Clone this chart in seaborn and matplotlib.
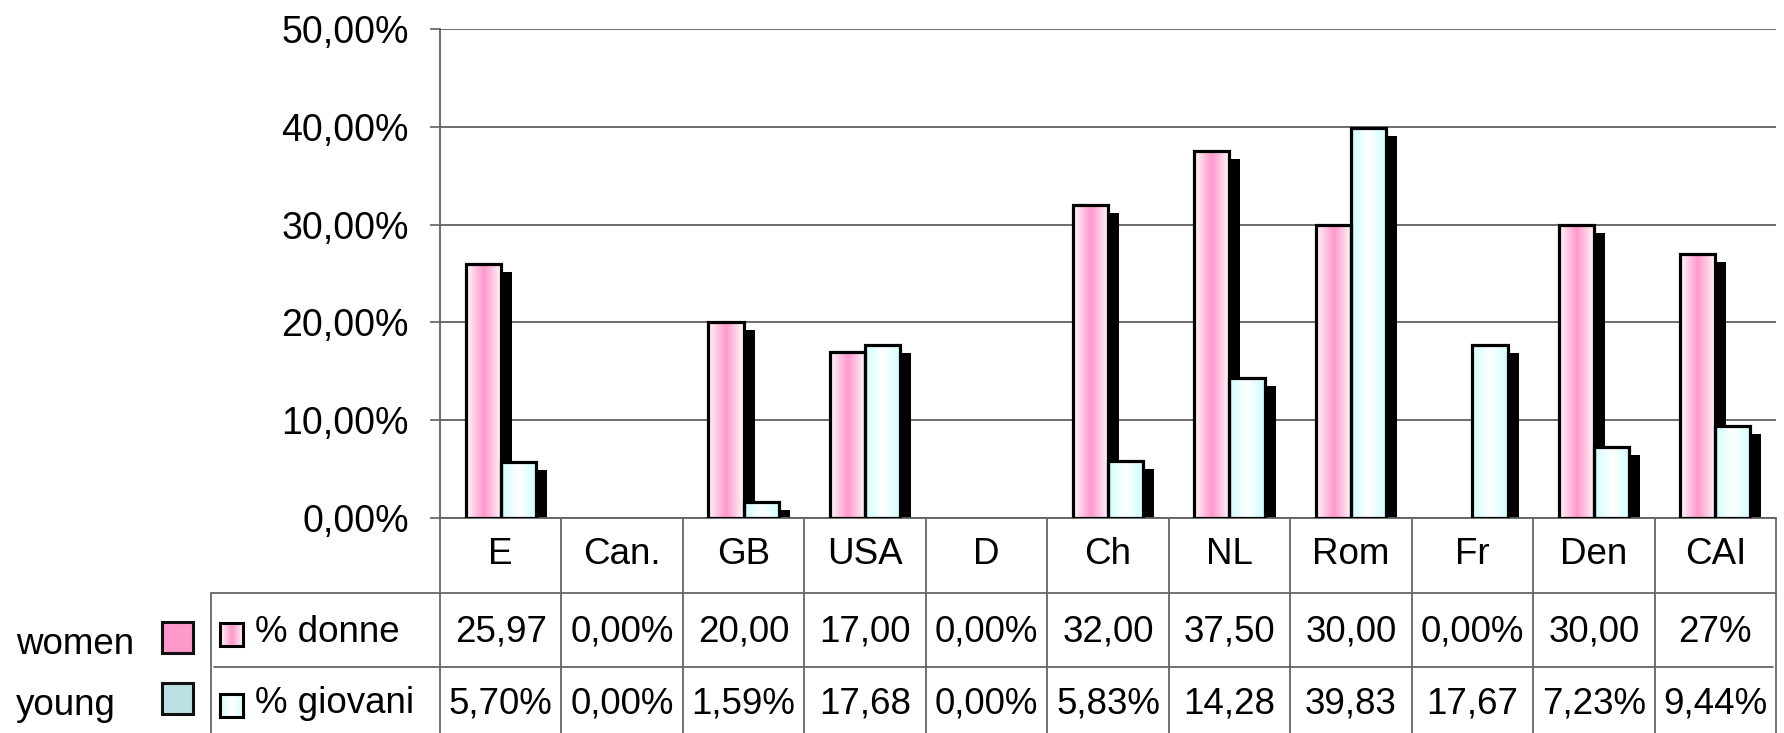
import matplotlib
matplotlib.use("Agg")
import matplotlib.pyplot as plt
import matplotlib.transforms as mtransforms
from matplotlib.patches import Rectangle
from matplotlib.lines import Line2D
import numpy as np
import pandas as pd
import seaborn as sns

# data
countries = ["E", "Can.", "GB", "USA", "D", "Ch", "NL", "Rom", "Fr", "Den", "CAI"]
donne = [25.97, 0.0, 20.0, 17.0, 0.0, 32.0, 37.5, 30.0, 0.0, 30.0, 27.0]
giovani = [5.70, 0.0, 1.59, 17.68, 0.0, 5.83, 14.28, 39.83, 17.67, 7.23, 9.44]
donne_txt = ["25,97", "0,00%", "20,00", "17,00", "0,00%", "32,00",
             "37,50", "30,00", "0,00%", "30,00", "27%"]
giovani_txt = ["5,70%", "0,00%", "1,59%", "17,68", "0,00%", "5,83%",
               "14,28", "39,83", "17,67", "7,23%", "9,44%"]
series = ["% donne", "% giovani"]
legend_names = ["women", "young"]
yticks = [0, 10, 20, 30, 40, 50]

PINK = (1.0, 0.6, 0.8)
CYAN = (0.8, 1.0, 1.0)
WHITE = (1.0, 1.0, 1.0)
GRID = "#606060"
FS = 26.5

sns.set_style("white")
plt.rcParams["font.family"] = ["Liberation Sans", "DejaVu Sans"]
plt.rcParams["text.color"] = "black"
plt.rcParams["ytick.labelcolor"] = "black"

W, H = 1784, 733
fig = plt.figure(figsize=(W / 100, H / 100), dpi=100)
ax = fig.add_axes([440 / W, (H - 518) / H, (1776 - 440) / W, (518 - 29) / H])


def gradient(edge, mid, n=80):
    t = np.linspace(0, 1, n)
    k = (1 - np.abs(2 * t - 1)) ** 0.9
    row = np.array(edge)[None, :] + (np.array(mid) - np.array(edge))[None, :] * k[:, None]
    return row[None, :, :]


df = pd.DataFrame({
    "country": countries * 2,
    "serie": [series[0]] * len(countries) + [series[1]] * len(countries),
    "value": donne + giovani,
})
sns.barplot(data=df, x="country", y="value", hue="serie", order=countries,
            hue_order=series, palette=[PINK, CYAN], width=0.58, saturation=1,
            errorbar=None, legend=False, ax=ax)

shift = ax.transData + mtransforms.ScaledTranslation(0.11, -0.08, fig.dpi_scale_trans)
grads = [gradient(WHITE, PINK), gradient(CYAN, WHITE)]
for container, grad in zip(ax.containers, grads):
    for bar in container:
        h = bar.get_height()
        if h <= 0:
            bar.set_visible(False)
            continue
        x, w = bar.get_x(), bar.get_width()
        ax.add_patch(Rectangle((x, 0), w, h, facecolor="black", edgecolor="none",
                               zorder=1.5, transform=shift))
        ax.imshow(grad, extent=(x, x + w, 0, h), aspect="auto", zorder=2,
                  interpolation="bilinear")
        bar.set_facecolor("none")
        bar.set_edgecolor("black")
        bar.set_linewidth(2.3)
        bar.set_zorder(3)

ax.set_xlim(-0.5, len(countries) - 0.5)
ax.set_ylim(0, 50)
ax.set_yticks(yticks)
ax.set_yticklabels([f"{v:.2f}".replace(".", ",") + "%" for v in yticks], fontsize=27)
ax.set_xticks([])
ax.set_xlabel("")
ax.set_ylabel("")
ax.yaxis.grid(True, color=GRID, lw=1.3)
ax.set_axisbelow(True)
ax.tick_params(axis="y", left=True, length=7.5, width=1.2, color=GRID, pad=15)
for s in ["top", "right"]:
    ax.spines[s].set_visible(False)
for s in ["left", "bottom"]:
    ax.spines[s].set_color(GRID)
    ax.spines[s].set_linewidth(1.3)

# data table under the plot, x in category units, y in pixel rows
unit = (1776 - 440) / len(countries)


def px(p):
    return -0.5 + (p - 440) / unit


tab = fig.add_axes([0, 0, 1, (H - 518) / H])
tab.set_xlim(px(0), px(W))
tab.set_ylim(H, 518)
tab.axis("off")

line_kw = dict(color="#666666", lw=1.3)
for i in range(len(countries) + 1):
    tab.add_line(Line2D([i - 0.5, i - 0.5], [518, H], **line_kw))
tab.add_line(Line2D([px(211), px(1776)], [593, 593], **line_kw))
tab.add_line(Line2D([px(214), px(1773)], [667, 667], **line_kw))
tab.add_line(Line2D([px(211), px(211)], [593, H], **line_kw))

for i, c in enumerate(countries):
    tab.text(i, 564, c, ha="center", va="baseline", fontsize=FS)
    tab.text(i, 642, donne_txt[i], ha="center", va="baseline", fontsize=FS)
    tab.text(i, 713, giovani_txt[i], ha="center", va="baseline", fontsize=FS)

rows = [(642, 623, 646, grads[0]), (713, 694, 717, grads[1])]
for name, (base, y0, y1, grad) in zip(series, rows):
    tab.imshow(grad, extent=(px(220), px(243), y1, y0), aspect="auto", zorder=2)
    tab.add_patch(Rectangle((px(220), y0), px(243) - px(220), y1 - y0,
                            facecolor="none", edgecolor="black", lw=2.2, zorder=3))
    tab.text(px(255), base, name, ha="left", va="baseline", fontsize=FS)

# outer legend with plain swatches
swatches = [(654, 622, 653, "#ff99cc"), (715, 683, 714, "#bbe0e3")]
for name, (base, y0, y1, col) in zip(legend_names, swatches):
    tab.add_patch(Rectangle((px(162), y0), px(193) - px(162), y1 - y0,
                            facecolor=col, edgecolor="#111111", lw=2.2, zorder=3))
    tab.text(px(16), base, name, ha="left", va="baseline", fontsize=FS)

tab.set_xlim(px(0), px(W))
tab.set_ylim(H, 518)

fig.savefig("out.png", dpi=100)
